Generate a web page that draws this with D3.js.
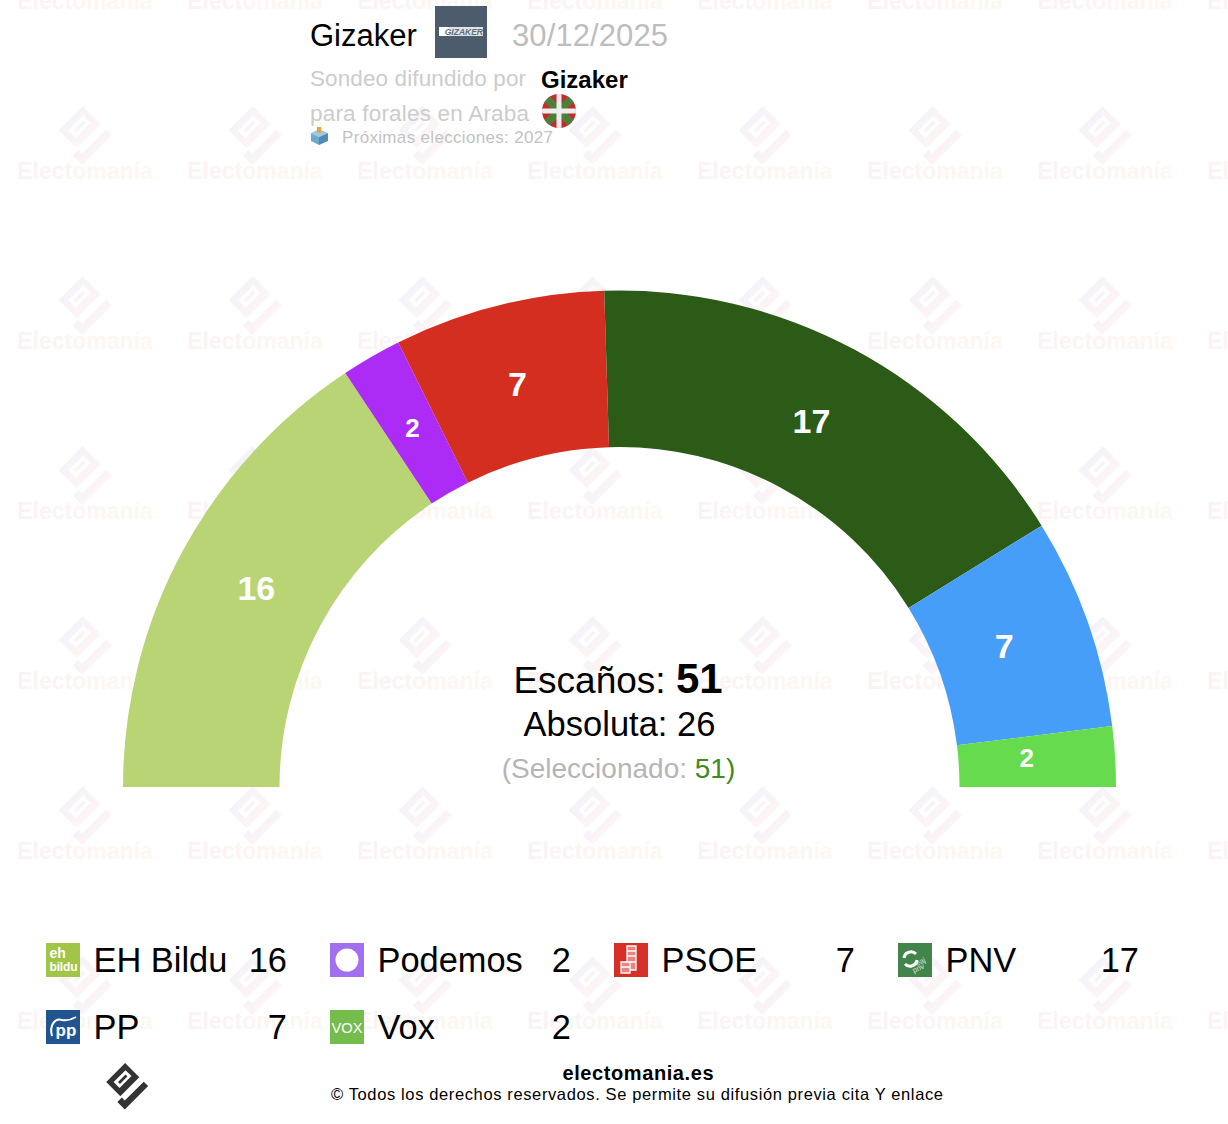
<!DOCTYPE html>
<html>
<head>
<meta charset="utf-8">
<script src="https://cdn.jsdelivr.net/npm/d3@7"></script>
<style>
html, body { margin: 0; padding: 0; background: #fff; }
svg { display: block; }
text { font-family: "Liberation Sans", Arial, sans-serif; }
</style>
</head>
<body>
<svg id="main" width="1228" height="1124"></svg>
<script>
// data
var parties = ["EH Bildu", "Podemos", "PSOE", "PNV", "PP", "Vox"];
var seats = [16, 2, 7, 17, 7, 2];
var arcColors = ["#B9D475", "#AC2BF5", "#D42E20", "#2C5B18", "#469EF8", "#66DB4E"];
var iconColors = ["#A2C548", "#A270EE", "#D62F27", "#43844A", "#22548F", "#74BC4C"];
var totalSeats = 51, majority = 26, selected = 51;

var svg = d3.select("#main");
var defs = svg.append("defs");
var grad = defs.append("linearGradient").attr("id", "wm");
grad.append("stop").attr("offset", "0%").attr("stop-color", "#d0506a");
grad.append("stop").attr("offset", "100%").attr("stop-color", "#f2a030");
var gradLogo = defs.append("linearGradient").attr("id", "wmlogo");
gradLogo.append("stop").attr("offset", "0%").attr("stop-color", "#5a2fb0");
gradLogo.append("stop").attr("offset", "100%").attr("stop-color", "#e8504a");

// electomania logo, drawn round 0,0 in a rotated frame
function logo(g, fill, k) {
	var r = g.append("g").attr("transform", "rotate(45) scale(" + k + ")");
	r.append("path").attr("fill", fill).attr("fill-rule", "evenodd")
		.attr("d", "M-16,-13.5H3V12H-16Z M-11,-9V7H-3V-9Z");
	r.append("rect").attr("x", -8).attr("y", -6).attr("width", 2.5).attr("height", 10).attr("fill", fill);
	r.append("path").attr("fill", fill).attr("d", "M9,-13.5H15V18H5V12H9Z");
}

// watermark tiles
var wm = svg.append("g");
d3.range(-1, 6).forEach(function(row) {
	d3.range(0, 8).forEach(function(col) {
		var x = 85 + col * 170, y = 171 + row * 170;
		logo(wm.append("g").attr("opacity", 0.055).attr("transform", "translate(" + x + "," + (y - 37) + ")"), "url(#wmlogo)", 1.33);
		wm.append("text").attr("x", x).attr("y", y + 8).attr("text-anchor", "middle").attr("opacity", 0.065)
			.attr("font-size", 23).attr("font-weight", "bold").attr("fill", "url(#wm)").text("Electomanía");
	});
});

// hemicycle
var cx = 619.5, cy = 787;
var pie = d3.pie().sort(null).startAngle(-Math.PI / 2).endAngle(Math.PI / 2).value(function(d) { return d; });
var arc = d3.arc().innerRadius(340).outerRadius(496.5);
var labelArc = d3.arc().innerRadius(410).outerRadius(410);
var hemi = svg.append("g").attr("transform", "translate(" + cx + "," + cy + ")");
var slices = pie(seats);
hemi.selectAll("path").data(slices).enter().append("path")
	.attr("d", arc)
	.attr("fill", function(d, i) { return arcColors[i]; });
hemi.selectAll("text").data(slices).enter().append("text")
	.attr("transform", function(d) { return "translate(" + labelArc.centroid(d) + ")"; })
	.attr("text-anchor", "middle")
	.attr("dx", -2)
	.attr("dy", function(d) { return d.data < 5 ? 5.5 : 7; })
	.attr("font-size", function(d) { return d.data < 5 ? 26 : 34; })
	.attr("font-weight", "bold")
	.attr("fill", "#fff")
	.text(function(d) { return d.data; });

// centre text
svg.append("text").attr("x", 618).attr("y", 693).attr("text-anchor", "middle").attr("font-size", 37)
	.html("Escaños: <tspan font-weight='bold' font-size='42'>" + totalSeats + "</tspan>");
svg.append("text").attr("x", 619.5).attr("y", 735.5).attr("text-anchor", "middle").attr("font-size", 34.5)
	.text("Absoluta: " + majority);
svg.append("text").attr("x", 618.5).attr("y", 778).attr("text-anchor", "middle").attr("font-size", 28).attr("fill", "#b5b5b5")
	.html("(Seleccionado: <tspan fill='#3f8a22'>" + selected + ")</tspan>");

// header
svg.append("text").attr("x", 310).attr("y", 46).attr("font-size", 31).text("Gizaker");
svg.append("rect").attr("x", 435).attr("y", 6).attr("width", 52).attr("height", 52).attr("fill", "#4C5C6C");
svg.append("rect").attr("x", 439).attr("y", 27).attr("width", 44).attr("height", 9).attr("fill", "#dfe3e7");
svg.append("rect").attr("x", 439).attr("y", 27).attr("width", 10).attr("height", 9).attr("fill", "#ffffff");
svg.append("text").attr("x", 483).attr("y", 35).attr("text-anchor", "end").attr("font-size", 8.5).attr("font-weight", "bold")
	.attr("font-style", "italic").attr("fill", "#5f6d7b").text("GIZAKER");
svg.append("text").attr("x", 512).attr("y", 46).attr("font-size", 31).attr("textLength", 156).attr("fill", "#bdbdbd").text("30/12/2025");
svg.append("text").attr("x", 310).attr("y", 86).attr("font-size", 22.5).attr("textLength", 216).attr("fill", "#cccccc").text("Sondeo difundido por");
svg.append("text").attr("x", 541).attr("y", 88).attr("font-size", 24).attr("font-weight", "bold").text("Gizaker");
svg.append("text").attr("x", 310).attr("y", 121).attr("font-size", 22.5).attr("textLength", 219).attr("fill", "#cccccc").text("para forales en Araba");
svg.append("text").attr("x", 342).attr("y", 143).attr("font-size", 17).attr("textLength", 211).attr("fill", "#c2c2c2").text("Próximas elecciones: 2027");

// ikurrina
var flagClip = defs.append("clipPath").attr("id", "flagclip");
flagClip.append("circle").attr("cx", 559).attr("cy", 111).attr("r", 17);
var flag = svg.append("g").attr("clip-path", "url(#flagclip)");
flag.append("rect").attr("x", 542).attr("y", 94).attr("width", 34).attr("height", 34).attr("fill", "#C8282E");
flag.append("line").attr("x1", 542).attr("y1", 94).attr("x2", 576).attr("y2", 128).attr("stroke", "#4E7F3A").attr("stroke-width", 8);
flag.append("line").attr("x1", 576).attr("y1", 94).attr("x2", 542).attr("y2", 128).attr("stroke", "#4E7F3A").attr("stroke-width", 8);
flag.append("rect").attr("x", 556.5).attr("y", 94).attr("width", 5).attr("height", 34).attr("fill", "#eeeeee");
flag.append("rect").attr("x", 542).attr("y", 108.5).attr("width", 34).attr("height", 5).attr("fill", "#eeeeee");

// ballot box
svg.append("path").attr("d", "M311,133L319,129L328,133L319,137Z").attr("fill", "#9CCBE6");
svg.append("path").attr("d", "M311,133L319,137V145L311,141Z").attr("fill", "#6FA8CC");
svg.append("path").attr("d", "M328,133L319,137V145L328,141Z").attr("fill", "#4F8DB5");
svg.append("rect").attr("x", 317).attr("y", 127).attr("width", 4).attr("height", 6).attr("fill", "#E8A33D");

// legend
var colX = d3.scaleBand().domain([0, 1, 2, 3]).range([46, 1182]);
var rowY = d3.scaleBand().domain([0, 1]).range([943, 1077]);
var legend = svg.selectAll("g.item").data(parties).enter().append("g").attr("class", "item")
	.attr("transform", function(d, i) { return "translate(" + colX(i % 4) + "," + rowY(Math.floor(i / 4)) + ")"; });
legend.append("rect").attr("width", 34).attr("height", 34).attr("fill", function(d, i) { return iconColors[i]; });
legend.append("text").attr("x", 47.5).attr("y", 28.5).attr("font-size", 34.4).text(function(d) { return d; });
legend.append("text").attr("x", 241).attr("y", 28.5).attr("text-anchor", "end").attr("font-size", 34.4)
	.text(function(d, i) { return seats[i]; });

// party logos
function icon(i) { return d3.select(legend.nodes()[i]); }
function iconText(i, x, y, size, str, anchor) {
	return icon(i).append("text").attr("x", x).attr("y", y).attr("font-size", size).attr("font-weight", "bold")
		.attr("text-anchor", anchor || "start").attr("fill", "#fff").text(str);
}
iconText(0, 3.5, 15, 14, "eh");
iconText(0, 3.5, 28, 12, "bildu").attr("textLength", 28);
icon(1).append("circle").attr("cx", 17).attr("cy", 17).attr("r", 11.5).attr("fill", "#fff");
icon(2).append("path").attr("fill", "#e9857e").attr("stroke", "#fff").attr("stroke-width", 1.3)
	.attr("d", "M13,3H22V27H16V30H7V19H13Z");
icon(2).append("path").attr("fill", "none").attr("stroke", "#fff").attr("stroke-width", 1.3)
	.attr("d", "M13,8H22 M13,13H22 M13,19H22 M7,24H16 M16,19V27");
icon(3).append("path").attr("fill", "none").attr("stroke", "#fff").attr("stroke-width", 3)
	.attr("d", "M6,15A7,7 0 0 1 18,11 M19,17A7,7 0 0 1 7,21");
icon(3).append("text").attr("x", 19).attr("y", 23).attr("font-size", 7.5).attr("fill", "#d5e5d5").attr("transform", "rotate(-25 19 23)").text("eaj");
icon(3).append("text").attr("x", 16).attr("y", 30).attr("font-size", 7.5).attr("fill", "#d5e5d5").attr("transform", "rotate(-25 16 30)").text("pnv");
iconText(4, 20, 26, 17, "pp", "middle");
icon(4).append("path").attr("fill", "none").attr("stroke", "#fff").attr("stroke-width", 2)
	.attr("d", "M6,26C3,15 9,8 16,10C21,11 25,10 30,7");
iconText(5, 17, 23, 15, "VOX", "middle").attr("font-weight", "normal").attr("textLength", 31).attr("lengthAdjust", "spacingAndGlyphs");

// footer
logo(svg.append("g").attr("transform", "translate(127,1085)"), "#333333", 1.05);
svg.append("text").attr("x", 638).attr("y", 1079.5).attr("text-anchor", "middle").attr("font-size", 20).attr("font-weight", "bold")
	.attr("textLength", 151).text("electomania.es");
svg.append("text").attr("x", 637).attr("y", 1100).attr("text-anchor", "middle").attr("font-size", 16.5)
	.attr("textLength", 612).text("© Todos los derechos reservados. Se permite su difusión previa cita Y enlace");
</script>
</body>
</html>
